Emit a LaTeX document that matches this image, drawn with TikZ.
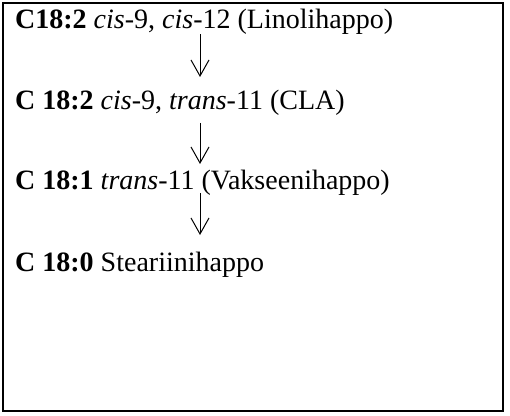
\documentclass[tikz,border=0pt]{standalone}
\usepackage{fontspec}
\setmainfont{Liberation Serif}
\usetikzlibrary{arrows.meta,calc}
\tikzset{
  txt/.style={anchor=base west, inner sep=0pt, font=\fontsize{28}{32}\selectfont},
  arr/.style={line width=1pt, -{Straight Barb[length=16pt,width=18pt,line width=1pt]}},
  frame/.style={line width=2pt}
}
\begin{document}
\begin{tikzpicture}[x=1pt,y=1pt]
\useasboundingbox (0,0) rectangle (510,415);
\draw[frame] (3,4) rectangle (503,412);
\node[txt] (l1) at (15,386) {\textbf{C18:2} \textit{cis}-9, \textit{cis}-12 (Linolihappo)};
\node[txt] (l2) at (15,305) {\textbf{C 18:2} \textit{cis}-9, \textit{trans}-11 (CLA)};
\node[txt] (l3) at (15,225) {\textbf{C 18:1} \textit{trans}-11 (Vakseenihappo)};
\node[txt] (l4) at (15,144) {\textbf{C 18:0} Steariinihappo};
\draw[arr] ($(l1.base west)+(185,-5.5)$) -- ($(l2.base west)+(185,33)$);
\draw[arr] ($(l2.base west)+(185,-13)$) -- ($(l3.base west)+(185,26)$);
\draw[arr] ($(l3.base west)+(185,-3)$) -- ($(l4.base west)+(185,36)$);
\end{tikzpicture}
\end{document}
